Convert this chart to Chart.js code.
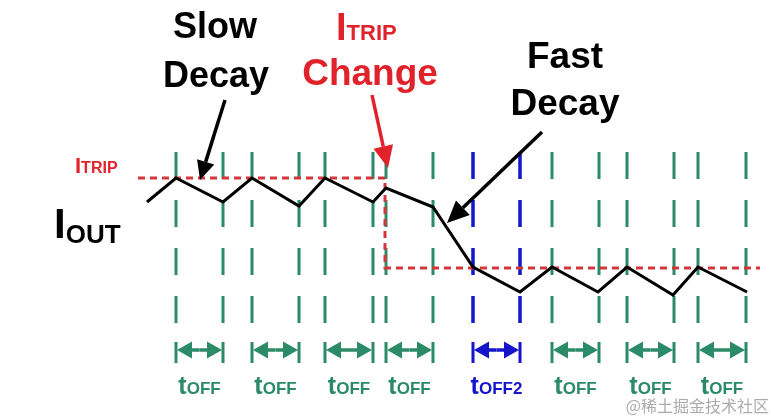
<!DOCTYPE html>
<html>
<head>
<meta charset="utf-8">
<script src="https://cdn.jsdelivr.net/npm/chart.js@4"></script>
<style>
  html, body { margin: 0; padding: 0; background: #fff; }
  #wrap { width: 774px; height: 420px; position: relative; }
</style>
</head>
<body>
<div id="wrap"><canvas id="chart"></canvas></div>
<script>
// output current waveform (time, current)
const waveT = [147, 176, 223, 252, 299, 325, 373, 386, 433, 473, 520, 552, 598, 627, 673, 698, 747];
const waveI = [218, 242, 218, 242, 214, 242, 218, 232, 213, 153, 128, 153, 128, 153, 125, 153, 128];

// trip threshold, steps down at the change
const tripT = [138, 385, 385, 760];
const tripI = [242, 242, 152, 152];

// off-time windows
const offStarts = [176, 252, 325, 386, 473, 552, 627, 698];
const offEnds = [223, 299, 373, 433, 520, 599, 674, 746];
const offLabels = ["OFF", "OFF", "OFF", "OFF", "OFF2", "OFF", "OFF", "OFF"];
const offFast = [false, false, false, false, true, false, false, false];

const markerTop = 268;
const markerBottom = 95;

const GREEN = "#2b8a68";
const BLUE = "#1515cc";
const RED = "#e0232a";
const RED_DASH = "#d3363b";
const FONT = "'Liberation Sans', Arial, sans-serif";

const markerSets = [];
offStarts.forEach((s, i) => {
  [s, offEnds[i]].forEach((t) => {
    markerSets.push({
      data: [{ x: t, y: markerTop }, { x: t, y: markerBottom }],
      borderColor: offFast[i] ? BLUE : GREEN,
      borderWidth: offFast[i] ? 3.5 : 3,
      borderDash: [27, 21],
      borderCapStyle: "butt",
      pointRadius: 0,
      order: 3,
    });
  });
});

function arrow(ctx, x1, y1, x2, y2, color, lw, hl, hw) {
  const a = Math.atan2(y2 - y1, x2 - x1);
  const bx = x2 - hl * Math.cos(a), by = y2 - hl * Math.sin(a);
  ctx.save();
  ctx.strokeStyle = color;
  ctx.fillStyle = color;
  ctx.lineWidth = lw;
  ctx.beginPath();
  ctx.moveTo(x1, y1);
  ctx.lineTo(bx, by);
  ctx.stroke();
  ctx.beginPath();
  ctx.moveTo(x2, y2);
  ctx.lineTo(bx + hw / 2 * Math.sin(a), by - hw / 2 * Math.cos(a));
  ctx.lineTo(bx - hw / 2 * Math.sin(a), by + hw / 2 * Math.cos(a));
  ctx.closePath();
  ctx.fill();
  ctx.restore();
}

// main text + smaller subscript right after it
function subText(ctx, x, y, main, mainSize, sub, subSize, color, subDrop, align) {
  ctx.save();
  ctx.fillStyle = color;
  ctx.textBaseline = "alphabetic";
  ctx.textAlign = "left";
  ctx.font = "bold " + mainSize + "px " + FONT;
  const w1 = ctx.measureText(main).width;
  ctx.font = "bold " + subSize + "px " + FONT;
  const w2 = ctx.measureText(sub).width;
  let left = x;
  if (align === "center") left = x - (w1 + w2) / 2;
  ctx.font = "bold " + mainSize + "px " + FONT;
  ctx.fillText(main, left, y);
  ctx.font = "bold " + subSize + "px " + FONT;
  ctx.fillText(sub, left + w1, y + (subDrop || 0));
  ctx.restore();
}

const annotations = {
  id: "annotations",
  afterDatasetsDraw(chart) {
    const ctx = chart.ctx;
    const px = (v) => chart.scales.x.getPixelForValue(v);
    const py = (v) => chart.scales.y.getPixelForValue(v);

    // off-time arrows and labels
    offStarts.forEach((s, i) => {
      const c = offFast[i] ? BLUE : GREEN;
      const x1 = px(s), x2 = px(offEnds[i]);
      const yA = py(70), yTop = py(78), yBot = py(57);
      ctx.save();
      ctx.strokeStyle = c;
      ctx.lineWidth = 3;
      ctx.beginPath();
      ctx.moveTo(x1, yTop); ctx.lineTo(x1, yBot);
      ctx.moveTo(x2, yTop); ctx.lineTo(x2, yBot);
      ctx.stroke();
      ctx.restore();
      arrow(ctx, (x1 + x2) / 2, yA, x1 + 1, yA, c, 3.5, 15, 17);
      arrow(ctx, (x1 + x2) / 2, yA, x2 - 1, yA, c, 3.5, 15, 17);
      subText(ctx, (x1 + x2) / 2, py(26), "t", 25, offLabels[i], 17, c, 0, "center");
    });

    ctx.save();
    ctx.textAlign = "center";
    ctx.textBaseline = "alphabetic";
    ctx.fillStyle = "#000";
    ctx.font = "bold 36px " + FONT;
    ctx.fillText("Slow", px(215), py(382));
    ctx.fillText("Decay", px(216), py(333));
    ctx.font = "bold 37px " + FONT;
    ctx.fillText("Fast", px(565), py(352));
    ctx.fillText("Decay", px(565), py(305));
    ctx.fillStyle = RED;
    ctx.fillText("Change", px(370), py(335));
    ctx.restore();

    subText(ctx, px(336), py(380), "I", 38, "TRIP", 22, RED, 0);
    subText(ctx, px(75), py(247), "I", 22, "TRIP", 16, RED, 0);
    subText(ctx, px(54), py(182), "I", 42, "OUT", 26, "#000", 5);

    arrow(ctx, px(225), py(320), px(200), py(240), "#000", 3.5, 19, 18);
    arrow(ctx, px(372), py(325), px(388), py(252), RED, 3.5, 22, 20);
    arrow(ctx, px(542), py(288), px(447), py(197), "#000", 3.5, 22, 20);

    ctx.save();
    ctx.fillStyle = "rgba(150,150,150,0.8)";
    ctx.font = "16px 'Noto Sans CJK SC', sans-serif";
    ctx.textAlign = "right";
    ctx.fillText("@稀土掘金技术社区", px(769), py(8));
    ctx.restore();
  },
};

new Chart(document.getElementById("chart"), {
  type: "line",
  data: {
    datasets: [
      {
        label: "IOUT",
        data: waveT.map((t, i) => ({ x: t, y: waveI[i] })),
        borderColor: "#000",
        borderWidth: 3,
        pointRadius: 0,
        tension: 0,
        order: 1,
      },
      {
        label: "ITRIP",
        data: tripT.map((t, i) => ({ x: t, y: tripI[i] })),
        borderColor: RED_DASH,
        borderWidth: 3,
        borderDash: [7, 5],
        borderCapStyle: "butt",
        pointRadius: 0,
        tension: 0,
        order: 2,
      },
      ...markerSets,
    ],
  },
  options: {
    responsive: true,
    maintainAspectRatio: false,
    animation: false,
    layout: { padding: 0 },
    plugins: { legend: { display: false }, tooltip: { enabled: false } },
    scales: {
      x: { type: "linear", min: 0, max: 774, display: false },
      y: { type: "linear", min: 0, max: 420, display: false },
    },
  },
  plugins: [annotations],
});
</script>
</body>
</html>
